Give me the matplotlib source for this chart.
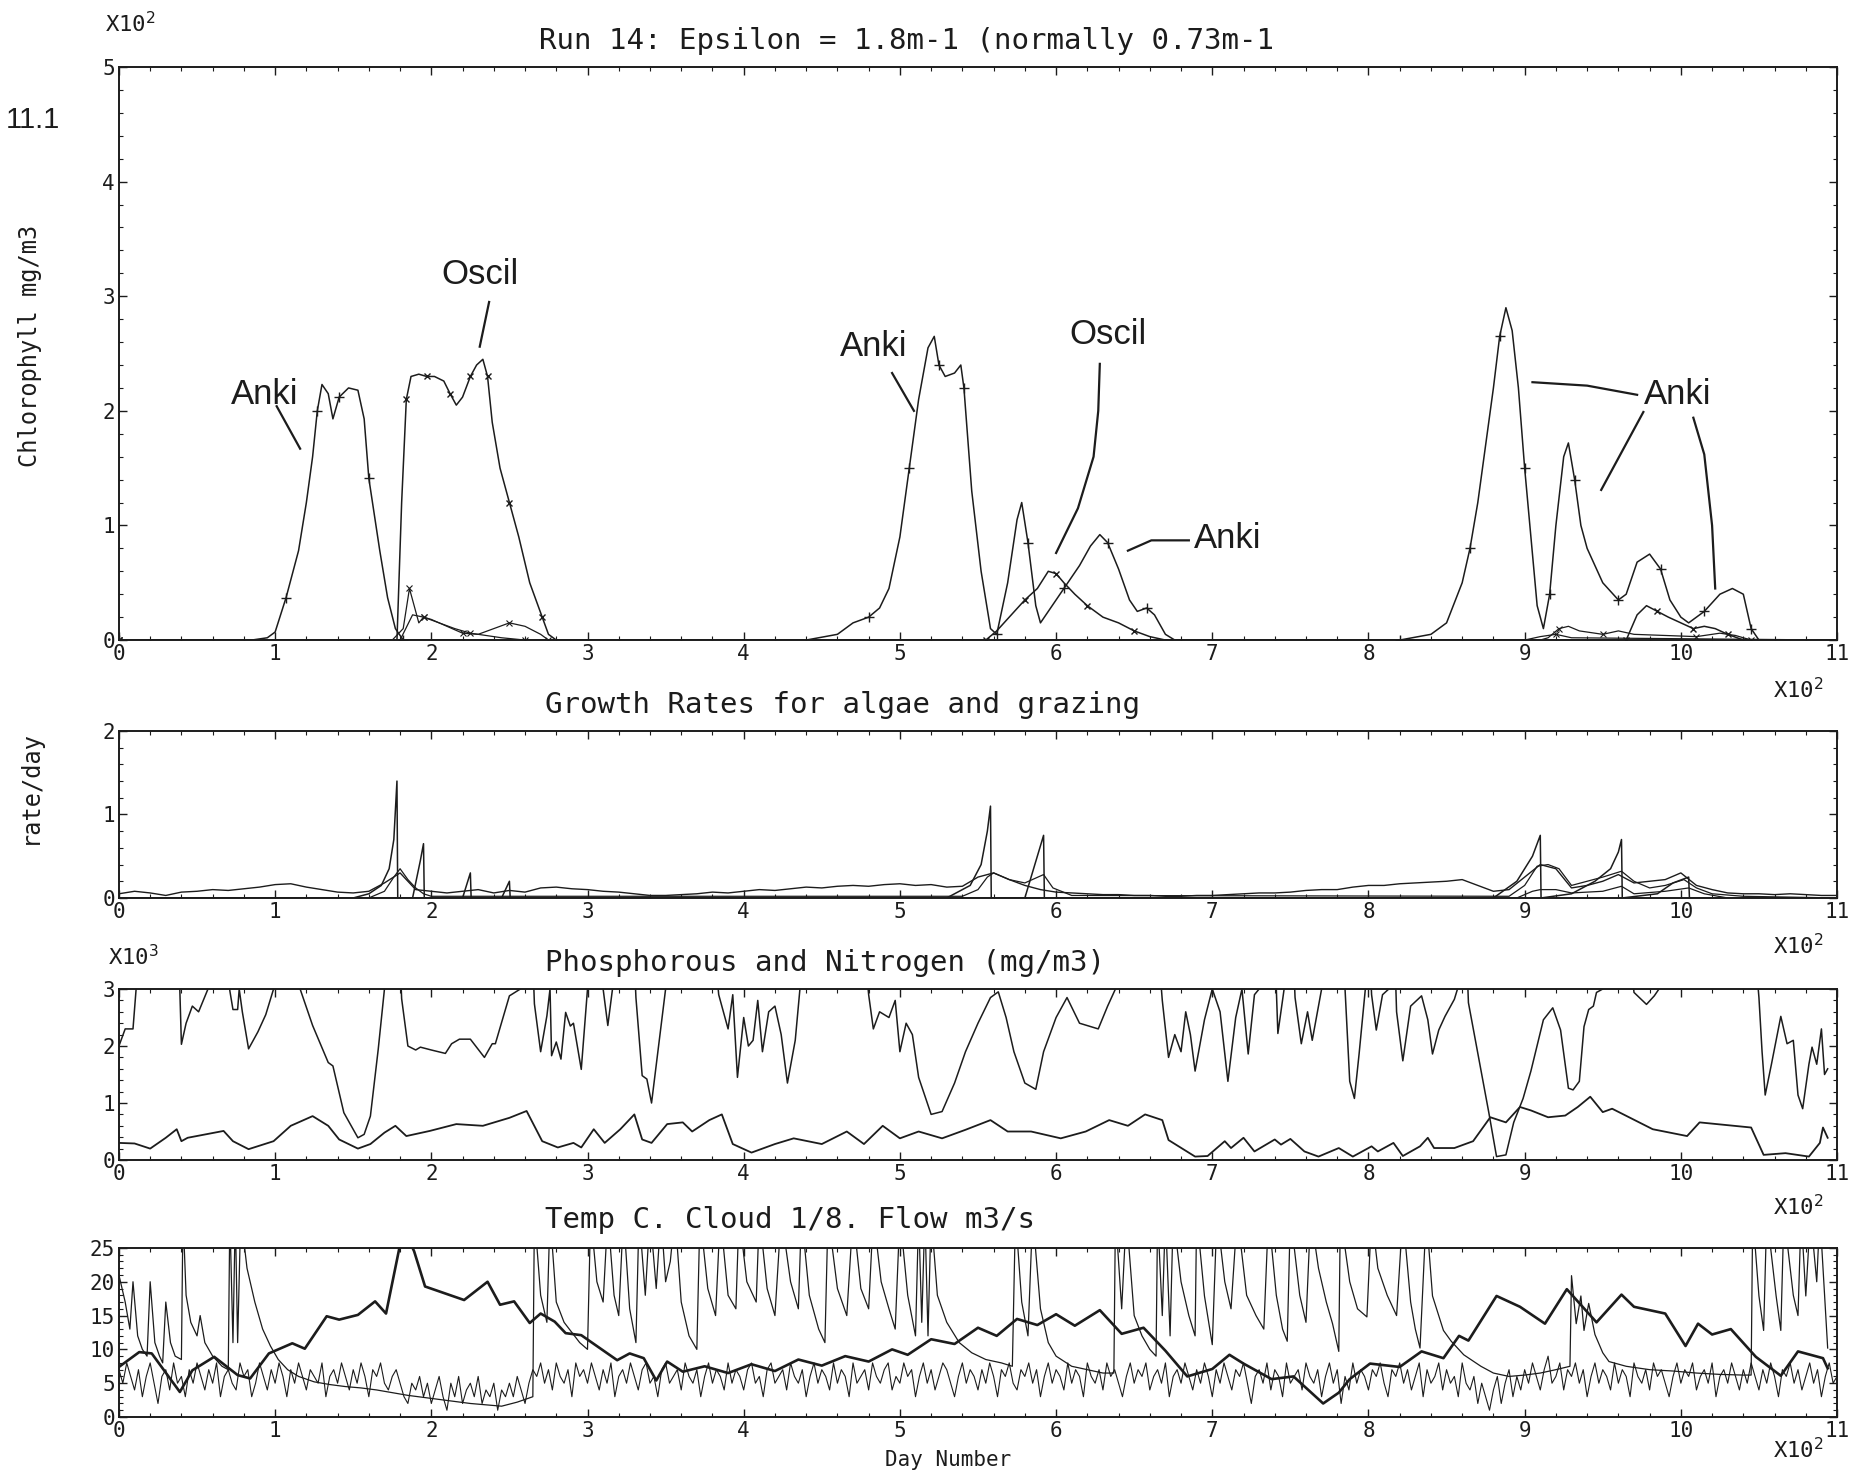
import numpy as np
import matplotlib.pyplot as plt
from matplotlib.ticker import MultipleLocator, FuncFormatter
from matplotlib.transforms import blended_transform_factory as blend

plt.rcParams['font.family'] = ['DejaVu Sans Mono']
INK = '#1c1c1c'

# x values are day numbers in hundreds (axis is labelled X10^2)

# ---- panel 1 : chlorophyll (x100 mg/m3)
anki = [(0.0, 0), (0.85, 0), (0.95, 0.02), (1.0, 0.07), (1.07, 0.37), (1.15, 0.78), (1.2, 1.2),
        (1.24, 1.6), (1.27, 2.0), (1.30, 2.23), (1.34, 2.15), (1.37, 1.93), (1.41, 2.12),
        (1.47, 2.2), (1.53, 2.18), (1.57, 1.93), (1.6, 1.41), (1.67, 0.78), (1.72, 0.37),
        (1.77, 0.1), (1.82, 0.0),
        (4.4, 0.0), (4.6, 0.05), (4.7, 0.15), (4.8, 0.2), (4.87, 0.28), (4.93, 0.45), (5.0, 0.9),
        (5.06, 1.5), (5.12, 2.1), (5.18, 2.55), (5.22, 2.65), (5.25, 2.4), (5.29, 2.3),
        (5.35, 2.33), (5.39, 2.4), (5.41, 2.2), (5.46, 1.3), (5.52, 0.6), (5.58, 0.1),
        (5.62, 0.05), (5.69, 0.5), (5.75, 1.05), (5.78, 1.2), (5.82, 0.85), (5.87, 0.3),
        (5.9, 0.15), (5.95, 0.25), (6.05, 0.45), (6.15, 0.65), (6.22, 0.82), (6.28, 0.92),
        (6.33, 0.85), (6.4, 0.62), (6.47, 0.35), (6.52, 0.25), (6.58, 0.28), (6.63, 0.22),
        (6.7, 0.05), (6.76, 0.0),
        (8.2, 0.0), (8.4, 0.05), (8.5, 0.15), (8.6, 0.5), (8.65, 0.8), (8.7, 1.2), (8.75, 1.7),
        (8.8, 2.2), (8.84, 2.65), (8.88, 2.9), (8.92, 2.7), (8.96, 2.2), (9.0, 1.5), (9.04, 0.9),
        (9.08, 0.3), (9.12, 0.1), (9.16, 0.4), (9.2, 1.0), (9.25, 1.6), (9.28, 1.72),
        (9.32, 1.4), (9.36, 1.0), (9.4, 0.8), (9.5, 0.5), (9.6, 0.35), (9.65, 0.4), (9.72, 0.68),
        (9.8, 0.75), (9.87, 0.62), (9.93, 0.35), (10.0, 0.2), (10.05, 0.15), (10.15, 0.25),
        (10.25, 0.4), (10.33, 0.45), (10.4, 0.4), (10.45, 0.1), (10.5, 0.0), (11.0, 0.0)]

oscil = [(0.0, 0), (1.78, 0.0), (1.81, 1.2), (1.84, 2.1), (1.87, 2.3), (1.92, 2.32), (1.97, 2.3),
         (2.02, 2.3), (2.08, 2.26), (2.12, 2.15), (2.16, 2.05), (2.2, 2.12), (2.25, 2.3),
         (2.29, 2.4), (2.33, 2.45), (2.36, 2.3), (2.39, 1.9), (2.44, 1.5), (2.5, 1.2),
         (2.56, 0.9), (2.63, 0.5), (2.71, 0.2), (2.75, 0.05), (2.8, 0.0),
         (5.55, 0.0), (5.62, 0.08), (5.7, 0.2), (5.8, 0.35), (5.88, 0.45), (5.95, 0.6),
         (6.0, 0.58), (6.05, 0.5), (6.12, 0.4), (6.2, 0.3), (6.3, 0.2), (6.4, 0.15),
         (6.5, 0.08), (6.6, 0.03), (6.7, 0.0),
         (9.65, 0.0), (9.72, 0.22), (9.78, 0.3), (9.85, 0.25), (9.92, 0.2), (10.0, 0.15),
         (10.08, 0.1), (10.15, 0.12), (10.22, 0.1), (10.3, 0.05), (10.4, 0.0), (11.0, 0.0)]

minor_a = [(0.0, 0), (1.75, 0.0), (1.82, 0.1), (1.86, 0.45), (1.89, 0.3), (1.92, 0.15),
           (1.95, 0.2), (2.0, 0.18), (2.1, 0.12), (2.2, 0.06), (2.3, 0.05), (2.4, 0.1),
           (2.5, 0.15), (2.6, 0.12), (2.7, 0.05), (2.75, 0.0),
           (9.1, 0.0), (9.15, 0.02), (9.22, 0.1), (9.28, 0.12), (9.35, 0.08), (9.5, 0.05),
           (9.6, 0.08), (9.7, 0.05), (10.1, 0.03), (10.25, 0.06), (10.35, 0.04), (10.45, 0.0),
           (11.0, 0.0)]

minor_b = [(0.0, 0), (1.8, 0.0), (1.88, 0.22), (1.95, 0.2), (2.05, 0.15), (2.15, 0.1),
           (2.25, 0.06), (2.35, 0.04), (2.45, 0.02), (2.6, 0.0),
           (9.0, 0.0), (9.1, 0.03), (9.2, 0.05), (9.3, 0.02), (11.0, 0.0)]

# ---- panel 2 : growth rates (rate/day)
growth_days = np.arange(0, 1101, 10) / 100
growth_bg = [0.05, 0.08, 0.06, 0.03, 0.07, 0.08, 0.10, 0.09, 0.11, 0.13,
             0.16, 0.17, 0.13, 0.10, 0.07, 0.06, 0.08, 0.18, 0.30, 0.10,
             0.08, 0.06, 0.08, 0.10, 0.06, 0.09, 0.07, 0.12, 0.13, 0.11,
             0.10, 0.08, 0.07, 0.05, 0.03, 0.03, 0.04, 0.05, 0.07, 0.06,
             0.08, 0.10, 0.09, 0.11, 0.13, 0.12, 0.14, 0.15, 0.14, 0.16,
             0.17, 0.15, 0.16, 0.13, 0.14, 0.25, 0.30, 0.22, 0.15, 0.10,
             0.07, 0.06, 0.05, 0.04, 0.04, 0.03, 0.03, 0.02, 0.02, 0.03,
             0.03, 0.04, 0.05, 0.06, 0.06, 0.07, 0.09, 0.10, 0.10, 0.13,
             0.15, 0.15, 0.17, 0.18, 0.19, 0.20, 0.22, 0.15, 0.08, 0.10,
             0.25, 0.40, 0.35, 0.12, 0.15, 0.20, 0.28, 0.18, 0.20, 0.22,
             0.30, 0.15, 0.10, 0.06, 0.05, 0.05, 0.04, 0.05, 0.04, 0.03,
             0.03]

growth_spikes = [(0.0, 0), (1.5, 0.0), (1.6, 0.05), (1.68, 0.15), (1.73, 0.35), (1.76, 0.7),
                 (1.78, 1.4), (1.785, 0.0), (1.88, 0.0), (1.93, 0.45), (1.95, 0.65),
                 (1.955, 0.0), (2.2, 0.0), (2.25, 0.3), (2.255, 0.0), (2.45, 0.0), (2.5, 0.2),
                 (2.505, 0.0), (5.3, 0.0), (5.45, 0.15), (5.52, 0.4), (5.56, 0.8), (5.58, 1.1),
                 (5.585, 0.0), (5.8, 0.0), (5.88, 0.5), (5.92, 0.75), (5.925, 0.0),
                 (8.8, 0.0), (8.95, 0.2), (9.05, 0.5), (9.1, 0.75), (9.105, 0.0),
                 (9.3, 0.05), (9.45, 0.2), (9.55, 0.35), (9.6, 0.55), (9.62, 0.7),
                 (9.625, 0.0), (9.85, 0.05), (9.95, 0.18), (10.05, 0.25), (10.055, 0.0),
                 (11.0, 0.0)]

grazing = [(0.0, 0), (1.6, 0.0), (1.7, 0.08), (1.76, 0.25), (1.8, 0.35), (1.85, 0.22),
           (1.9, 0.12), (1.95, 0.05), (2.0, 0.02), (5.4, 0.02), (5.5, 0.1), (5.56, 0.25),
           (5.6, 0.3), (5.7, 0.22), (5.8, 0.18), (5.92, 0.28), (5.98, 0.12), (6.1, 0.03),
           (8.9, 0.02), (9.0, 0.15), (9.08, 0.38), (9.15, 0.4), (9.22, 0.35), (9.3, 0.15),
           (9.4, 0.2), (9.5, 0.25), (9.62, 0.32), (9.7, 0.2), (9.8, 0.12), (9.9, 0.15),
           (10.02, 0.22), (10.1, 0.12), (10.2, 0.05), (10.4, 0.02), (11.0, 0.0)]

grazing_low = [(0.0, 0), (8.95, 0.0), (9.05, 0.08), (9.1, 0.1), (9.2, 0.1), (9.3, 0.06),
               (9.5, 0.08), (9.62, 0.14), (9.7, 0.05), (9.9, 0.08), (10.05, 0.12),
               (10.15, 0.05), (10.3, 0.0), (11.0, 0.0)]

# ---- panel 3 : nitrogen and phosphorus (x1000 mg/m3); 3.5 = off the top of the plot
nitrogen = [(0.0, 2.0), (0.04, 2.3), (0.09, 2.3), (0.11, 3.0), (0.13, 3.5),
            (0.38, 3.5), (0.39, 2.97), (0.4, 2.03), (0.43, 2.4), (0.47, 2.7), (0.51, 2.6),
            (0.57, 3.0), (0.6, 3.5), (0.7, 3.5), (0.71, 2.97), (0.73, 2.64), (0.76, 2.64),
            (0.77, 3.0), (0.79, 2.6), (0.83, 1.95), (0.89, 2.25), (0.94, 2.55), (0.99, 3.0),
            (1.02, 3.5), (1.14, 3.5), (1.16, 3.0), (1.24, 2.36), (1.34, 1.71), (1.37, 1.65),
            (1.44, 0.83), (1.53, 0.39), (1.57, 0.45), (1.61, 0.77), (1.66, 1.94), (1.7, 3.0),
            (1.72, 3.5), (1.8, 3.5), (1.81, 2.83), (1.85, 2.0), (1.9, 1.93), (1.93, 1.98),
            (2.0, 1.93), (2.09, 1.87), (2.13, 2.04), (2.18, 2.12), (2.25, 2.12), (2.34, 1.8),
            (2.39, 2.04), (2.41, 2.04), (2.5, 2.88), (2.57, 3.0), (2.6, 3.5),
            (2.65, 3.5), (2.66, 2.74), (2.7, 1.9), (2.74, 2.53), (2.76, 3.0), (2.77, 1.83),
            (2.8, 2.07), (2.83, 1.77), (2.86, 2.59), (2.89, 2.35), (2.91, 2.4), (2.96, 1.59),
            (3.0, 3.0), (3.02, 3.5), (3.09, 3.5), (3.1, 3.0), (3.13, 2.36), (3.16, 3.0),
            (3.18, 3.5), (3.3, 3.5), (3.31, 2.85), (3.35, 1.48), (3.38, 1.42), (3.41, 1.0),
            (3.5, 3.0), (3.52, 3.5), (3.82, 3.5), (3.84, 2.9), (3.9, 2.3), (3.93, 2.9),
            (3.96, 1.45), (4.0, 2.5), (4.03, 2.0), (4.06, 2.1), (4.09, 2.8), (4.12, 1.9),
            (4.16, 2.6), (4.2, 2.7), (4.24, 2.2), (4.28, 1.35), (4.33, 2.1), (4.36, 3.0),
            (4.38, 3.5), (4.78, 3.5), (4.8, 2.9), (4.83, 2.3), (4.87, 2.6), (4.93, 2.5),
            (4.97, 2.8), (5.0, 1.9), (5.04, 2.4), (5.08, 2.2), (5.12, 1.45), (5.2, 0.8),
            (5.27, 0.85), (5.35, 1.35), (5.42, 1.9), (5.5, 2.4), (5.58, 2.85), (5.63, 2.95),
            (5.68, 2.5), (5.73, 1.9), (5.8, 1.35), (5.87, 1.24), (5.92, 1.9), (6.0, 2.5),
            (6.07, 2.85), (6.15, 2.4), (6.27, 2.3), (6.33, 2.7), (6.38, 3.0), (6.4, 3.5),
            (6.66, 3.5), (6.68, 2.8), (6.72, 1.8), (6.76, 2.2), (6.8, 1.9), (6.83, 2.6),
            (6.86, 2.2), (6.89, 1.56), (6.95, 2.46), (7.0, 3.0), (7.05, 2.6), (7.1, 1.38),
            (7.15, 2.5), (7.19, 3.0), (7.23, 1.86), (7.27, 2.9), (7.3, 3.0), (7.32, 3.5),
            (7.4, 3.5), (7.41, 3.0), (7.42, 2.22), (7.46, 3.0), (7.48, 3.5), (7.52, 3.5),
            (7.53, 2.85), (7.57, 2.04), (7.61, 2.6), (7.64, 2.1), (7.68, 2.7), (7.7, 3.0),
            (7.72, 3.5), (7.84, 3.5), (7.85, 3.0), (7.88, 1.38), (7.91, 1.08), (7.94, 1.86),
            (7.98, 3.0), (8.0, 3.5), (8.01, 3.5), (8.02, 2.9), (8.05, 2.28), (8.09, 2.9),
            (8.13, 3.0), (8.15, 3.5), (8.17, 3.5), (8.18, 2.6), (8.22, 1.74), (8.27, 2.7),
            (8.34, 2.88), (8.38, 2.46), (8.41, 1.86), (8.45, 2.28), (8.49, 2.52), (8.55, 2.82),
            (8.57, 3.0), (8.6, 3.5), (8.63, 3.5), (8.64, 2.76), (8.77, 0.84), (8.82, 0.06),
            (8.88, 0.09), (8.93, 0.66), (8.99, 1.08), (9.04, 1.56), (9.12, 2.46), (9.18, 2.67),
            (9.23, 2.28), (9.28, 1.26), (9.31, 1.23), (9.35, 1.38), (9.38, 2.34), (9.41, 2.64),
            (9.44, 2.7), (9.46, 2.94), (9.5, 3.0), (9.52, 3.5), (9.68, 3.5), (9.7, 2.94),
            (9.78, 2.73), (9.83, 2.88), (9.86, 3.0), (9.88, 3.5), (10.48, 3.5), (10.5, 2.85),
            (10.52, 1.9), (10.54, 1.14), (10.58, 1.68), (10.64, 2.52), (10.68, 2.04),
            (10.72, 2.1), (10.75, 1.14), (10.78, 0.9), (10.82, 1.68), (10.84, 1.98),
            (10.87, 1.68), (10.9, 2.3), (10.92, 1.5), (10.94, 1.6)]

phosphorus = [(0.0, 0.30), (0.1, 0.29), (0.2, 0.2), (0.3, 0.39), (0.37, 0.54), (0.4, 0.33),
              (0.44, 0.39), (0.67, 0.51), (0.73, 0.33), (0.83, 0.19), (0.99, 0.33), (1.1, 0.6),
              (1.24, 0.77), (1.34, 0.6), (1.41, 0.36), (1.53, 0.2), (1.61, 0.28), (1.7, 0.48),
              (1.77, 0.6), (1.84, 0.42), (1.99, 0.51), (2.16, 0.63), (2.33, 0.6), (2.5, 0.74),
              (2.61, 0.86), (2.71, 0.33), (2.81, 0.22), (2.91, 0.3), (2.96, 0.22), (3.04, 0.54),
              (3.11, 0.3), (3.21, 0.54), (3.3, 0.8), (3.35, 0.36), (3.41, 0.3), (3.51, 0.63),
              (3.61, 0.66), (3.67, 0.5), (3.78, 0.7), (3.86, 0.8), (3.93, 0.28), (4.05, 0.13),
              (4.2, 0.28), (4.32, 0.38), (4.5, 0.28), (4.66, 0.5), (4.77, 0.28), (4.89, 0.6),
              (5.0, 0.38), (5.12, 0.5), (5.27, 0.38), (5.42, 0.53), (5.58, 0.7), (5.69, 0.5),
              (5.84, 0.5), (6.03, 0.38), (6.19, 0.5), (6.34, 0.7), (6.46, 0.6), (6.57, 0.8),
              (6.68, 0.7), (6.72, 0.35), (6.89, 0.06), (6.97, 0.07), (7.08, 0.33), (7.12, 0.21),
              (7.2, 0.39), (7.27, 0.15), (7.4, 0.36), (7.44, 0.27), (7.5, 0.37), (7.59, 0.15),
              (7.68, 0.06), (7.81, 0.21), (7.9, 0.06), (8.02, 0.24), (8.06, 0.15), (8.16, 0.3),
              (8.22, 0.07), (8.33, 0.24), (8.38, 0.39), (8.42, 0.21), (8.55, 0.21), (8.67, 0.33),
              (8.78, 0.75), (8.88, 0.66), (8.97, 0.93), (9.04, 0.87), (9.15, 0.75), (9.26, 0.78),
              (9.34, 0.93), (9.42, 1.11), (9.5, 0.84), (9.56, 0.9), (9.82, 0.54), (10.04, 0.42),
              (10.12, 0.66), (10.45, 0.57), (10.53, 0.09), (10.67, 0.12), (10.82, 0.06),
              (10.89, 0.3), (10.91, 0.57), (10.94, 0.39)]

# ---- panel 4 : temperature, cloud (1/8), flow (m3/s); 30 = off the top
temperature = [(0.0, 7.4), (0.13, 9.6), (0.21, 9.4), (0.39, 3.7), (0.47, 6.9), (0.61, 8.9),
               (0.76, 6.2), (0.84, 5.7), (0.96, 9.4), (1.11, 10.9), (1.19, 10.1), (1.33, 14.9),
               (1.41, 14.4), (1.53, 15.1), (1.64, 17.1), (1.71, 15.3), (1.8, 25.5), (1.86, 26),
               (1.89, 24.5), (1.96, 19.3), (2.21, 17.3), (2.36, 20), (2.44, 16.6), (2.53, 17.1),
               (2.63, 13.9), (2.7, 15.3), (2.79, 14.1), (2.86, 12.4), (2.96, 12.1), (3.19, 8.4),
               (3.27, 9.4), (3.36, 8.7), (3.44, 5.4), (3.51, 8.2), (3.61, 6.7), (3.75, 7.5),
               (3.9, 6.5), (4.05, 7.8), (4.2, 6.8), (4.35, 8.5), (4.5, 7.6), (4.65, 9.0),
               (4.8, 8.2), (4.95, 10.0), (5.05, 9.2), (5.2, 11.5), (5.35, 10.8), (5.5, 13.2),
               (5.62, 12.0), (5.75, 14.5), (5.88, 13.6), (6.0, 15.2), (6.12, 13.5), (6.28, 15.8),
               (6.42, 12.3), (6.56, 13.2), (6.7, 9.8), (6.84, 6.0), (7.0, 7.1), (7.11, 9.2),
               (7.2, 7.9), (7.38, 5.6), (7.52, 6.0), (7.71, 2.0), (7.81, 3.6), (7.88, 5.6),
               (8.01, 7.9), (8.2, 7.4), (8.34, 9.7), (8.48, 8.7), (8.58, 12.0), (8.64, 11.3),
               (8.82, 17.9), (8.97, 16.3), (9.13, 13.8), (9.27, 18.9), (9.46, 14.0), (9.62, 18.1),
               (9.7, 16.3), (9.9, 15.3), (10.03, 10.5), (10.11, 13.8), (10.2, 12.2),
               (10.32, 13.0), (10.48, 8.9), (10.64, 6.1), (10.75, 9.7), (10.91, 8.7),
               (10.94, 7.2)]

flow = [(0.0, 21), (0.04, 17), (0.07, 13), (0.09, 20), (0.12, 12), (0.15, 10), (0.18, 9),
        (0.2, 20), (0.23, 11), (0.26, 9), (0.28, 8), (0.3, 17), (0.33, 11), (0.36, 9),
        (0.4, 8.5), (0.41, 30), (0.43, 18), (0.46, 14), (0.5, 12), (0.52, 15), (0.55, 11),
        (0.6, 9), (0.66, 7.5), (0.7, 7), (0.71, 30), (0.73, 11), (0.745, 30), (0.76, 11),
        (0.78, 30), (0.82, 22), (0.87, 17), (0.92, 13), (0.97, 10.5), (1.02, 8.5), (1.08, 7),
        (1.15, 6), (1.25, 5.2), (1.35, 4.8), (1.45, 4.5), (1.55, 4.3), (1.65, 4.0),
        (1.75, 3.6), (1.85, 3.2), (1.95, 2.9), (2.05, 2.6), (2.15, 2.3), (2.25, 2.0),
        (2.35, 1.8), (2.45, 1.6), (2.55, 2.2), (2.65, 3.0), (2.66, 30), (2.7, 18), (2.74, 14),
        (2.76, 30), (2.8, 17), (2.85, 14), (2.9, 12.5), (2.95, 11), (3.0, 10), (3.02, 30),
        (3.06, 20), (3.1, 17), (3.13, 30), (3.17, 18), (3.2, 15), (3.23, 30), (3.27, 16),
        (3.31, 11), (3.33, 30), (3.37, 18), (3.4, 30), (3.44, 19), (3.47, 30), (3.5, 20),
        (3.53, 23), (3.56, 30), (3.6, 17), (3.65, 12), (3.7, 10), (3.72, 30), (3.77, 19),
        (3.82, 15), (3.85, 30), (3.9, 18), (3.95, 16), (3.97, 30), (4.02, 20), (4.08, 17),
        (4.1, 30), (4.15, 19), (4.2, 15), (4.24, 30), (4.3, 20), (4.35, 16), (4.37, 30),
        (4.42, 18), (4.48, 13), (4.52, 11), (4.54, 30), (4.6, 19), (4.66, 15), (4.7, 30),
        (4.75, 19), (4.8, 16), (4.83, 30), (4.88, 20), (4.93, 16), (4.97, 13), (5.0, 30),
        (5.05, 18), (5.1, 12), (5.12, 30), (5.14, 14), (5.16, 30), (5.18, 12), (5.2, 30),
        (5.24, 18), (5.3, 14), (5.38, 11), (5.46, 9.5), (5.55, 8.5), (5.65, 8), (5.72, 7.5),
        (5.74, 30), (5.78, 17), (5.82, 12), (5.85, 30), (5.9, 16), (5.95, 11), (6.0, 9),
        (6.1, 7.5), (6.2, 7), (6.3, 6.5), (6.37, 6.5), (6.38, 30), (6.42, 16), (6.45, 30),
        (6.5, 15), (6.55, 12), (6.6, 10), (6.64, 9), (6.65, 30), (6.68, 15), (6.7, 30),
        (6.73, 12), (6.75, 30), (6.8, 20), (6.85, 15), (6.89, 12), (6.9, 30), (6.95, 17.9),
        (7.0, 10.7), (7.03, 30), (7.08, 20), (7.12, 16), (7.16, 30), (7.22, 18), (7.28, 15),
        (7.33, 13), (7.36, 30), (7.41, 18), (7.45, 13), (7.48, 11.2), (7.5, 30), (7.56, 18),
        (7.6, 14), (7.63, 30), (7.68, 22), (7.73, 17), (7.77, 13.8), (7.81, 9.7), (7.82, 30),
        (7.88, 20), (7.93, 16), (7.99, 14.8), (8.02, 30), (8.06, 22), (8.12, 18), (8.18, 15),
        (8.22, 30), (8.27, 17), (8.3, 13), (8.33, 10.2), (8.37, 30), (8.41, 17.9),
        (8.48, 12.8), (8.53, 11.2), (8.61, 9.2), (8.72, 7.5), (8.8, 6.5), (8.9, 6),
        (9.0, 6.2), (9.1, 6.5), (9.2, 7), (9.29, 7.5), (9.3, 20.9), (9.33, 13.8),
        (9.36, 17.9), (9.38, 12.8), (9.41, 16.8), (9.45, 12.2), (9.5, 9.5), (9.54, 8.2),
        (9.65, 7.5), (9.8, 7), (9.95, 6.8), (10.1, 6.5), (10.25, 6.3), (10.4, 6.2),
        (10.45, 6.2), (10.46, 30), (10.5, 17.9), (10.53, 12.8), (10.55, 30), (10.61, 17.9),
        (10.64, 12.8), (10.66, 30), (10.72, 18), (10.75, 15), (10.77, 30), (10.8, 17.9),
        (10.83, 30), (10.87, 20), (10.89, 30), (10.94, 10.2)]

# cloud cover every 2.5 days, one row per 50 days
cloud_days = np.arange(0, 441) * 0.025
cloud = [7, 5, 8, 6, 4, 7, 3, 6, 8, 5, 2, 6, 7, 4, 8, 5, 6, 3, 7, 5,
         8, 6, 4, 7, 5, 8, 3, 6, 7, 5, 4, 8, 6, 7, 3, 5, 8, 6, 4, 7,
         5, 8, 6, 3, 7, 5, 8, 6, 4, 7, 6, 5, 8, 3, 6, 7, 5, 8, 6, 4,
         7, 5, 8, 6, 3, 7, 6, 8, 5, 4, 6, 7, 5, 3, 2, 5, 4, 6, 3, 5,
         2, 4, 6, 3, 1, 5, 3, 6, 2, 4, 5, 3, 6, 2, 4, 3, 5, 1, 4, 3,
         5, 3, 6, 4, 2, 5, 7, 6, 8, 5, 7, 4, 8, 6, 5, 7, 3, 8, 6, 7,
         5, 8, 6, 4, 7, 5, 8, 3, 6, 7, 5, 8, 6, 4, 7, 8, 5, 6, 3, 7,
         8, 5, 6, 7, 4, 8, 6, 5, 7, 3, 6, 8, 5, 7, 6, 4, 8, 5, 7, 6,
         4, 7, 8, 5, 6, 3, 7, 8, 5, 6, 7, 4, 8, 6, 5, 7, 3, 6, 8, 5,
         7, 6, 4, 8, 5, 7, 6, 3, 8, 5, 6, 7, 4, 8, 6, 5, 7, 8, 4, 6,
         5, 8, 6, 7, 3, 6, 8, 5, 7, 4, 6, 8, 7, 5, 3, 6, 8, 5, 7, 6,
         4, 7, 5, 8, 6, 3, 7, 6, 8, 5, 4, 7, 6, 8, 5, 7, 3, 6, 8, 5,
         7, 6, 4, 8, 5, 7, 6, 3, 8, 6, 5, 7, 4, 8, 6, 7, 5, 3, 6, 8,
         5, 7, 6, 8, 4, 6, 7, 5, 8, 3, 6, 7, 5, 8, 6, 4, 7, 5, 8, 6,
         3, 7, 5, 8, 6, 4, 7, 6, 8, 5, 2, 6, 7, 5, 8, 4, 7, 6, 3, 8,
         5, 6, 7, 4, 8, 6, 5, 7, 3, 6, 8, 5, 7, 2, 6, 4, 8, 5, 7, 6,
         4, 7, 6, 8, 5, 3, 7, 6, 8, 5, 7, 4, 6, 8, 3, 7, 5, 6, 8, 4,
         7, 5, 6, 3, 8, 5, 4, 6, 2, 5, 3, 1, 4, 6, 2, 5, 7, 3, 6, 4,
         7, 5, 8, 6, 4, 7, 9, 5, 6, 8, 4, 7, 6, 8, 5, 7, 3, 6, 8, 5,
         7, 6, 4, 8, 5, 7, 6, 3, 8, 6, 5, 7, 4, 8, 6, 7, 5, 3, 6, 8,
         5, 7, 6, 8, 4, 6, 7, 5, 8, 3, 6, 7, 5, 8, 6, 4, 7, 5, 8, 6,
         4, 7, 5, 8, 6, 3, 7, 6, 8, 5, 7, 4, 6, 8, 5, 7, 3, 6, 8, 5,
         6]


def xy(pairs):
    a = np.array(pairs, dtype=float)
    return a[:, 0], a[:, 1]


def style(ax, ymax, ystep, yminor):
    ax.set_xlim(0, 11)
    ax.set_ylim(0, ymax)
    ax.xaxis.set_major_locator(MultipleLocator(1))
    ax.xaxis.set_minor_locator(MultipleLocator(0.2))
    ax.yaxis.set_major_locator(MultipleLocator(ystep))
    ax.yaxis.set_minor_locator(MultipleLocator(yminor))
    ax.xaxis.set_major_formatter(FuncFormatter(lambda v, p: f'{int(round(v))}'))
    ax.yaxis.set_major_formatter(FuncFormatter(lambda v, p: f'{int(round(v))}'))
    ax.tick_params(which='both', direction='in', top=True, right=True,
                   labelsize=15, colors=INK, pad=3)
    ax.tick_params(which='major', length=6, width=1.0)
    ax.tick_params(which='minor', length=3, width=0.8)
    for s in ax.spines.values():
        s.set_linewidth(1.4)
        s.set_color(INK)


fig = plt.figure(figsize=(18.73, 14.83), dpi=100)
L, W = 0.0635, 0.9173
ax1 = fig.add_axes([L, 0.5684, W, 0.3864])
ax2 = fig.add_axes([L, 0.3945, W, 0.1126])
ax3 = fig.add_axes([L, 0.2178, W, 0.1153])
ax4 = fig.add_axes([L, 0.0445, W, 0.1140])

# panel 1
style(ax1, 5, 1, 0.2)
for pairs in (minor_a, minor_b):
    x, y = xy(pairs)
    ax1.plot(x, y, color=INK, lw=0.9, marker='x', ms=4, mew=0.8, markevery=3)
x, y = xy(oscil)
ax1.plot(x, y, color=INK, lw=1.1, marker='x', ms=5, mew=1, markevery=3)
x, y = xy(anki)
ax1.plot(x, y, color=INK, lw=1.1, marker='+', ms=7, mew=1, markevery=4)

ann_font = dict(family='Liberation Sans', fontsize=25, color=INK)
labels = [('Anki', 0.93, 2.14, [(1.01, 2.04), (1.16, 1.67)]),
          ('Oscil', 2.31, 3.19, [(2.37, 2.95), (2.31, 2.56)]),
          ('Anki', 4.83, 2.56, [(4.95, 2.33), (5.09, 2.0)]),
          ('Oscil', 6.33, 2.67, [(6.28, 2.41), (6.27, 2.0), (6.24, 1.6), (6.14, 1.15), (6.0, 0.76)]),
          ('Anki', 7.1, 0.89, [(6.46, 0.78), (6.61, 0.87), (6.85, 0.87)]),
          ('Anki', 9.98, 2.14, [(9.05, 2.25), (9.4, 2.22), (9.72, 2.14)])]
for txt, tx, ty, line in labels:
    ax1.text(tx, ty, txt, ha='center', va='center', **ann_font)
    lx, ly = xy(line)
    ax1.plot(lx, ly, color=INK, lw=1.6)
for line in ([(9.76, 1.99), (9.49, 1.31)],
             [(10.08, 1.94), (10.15, 1.62), (10.2, 1.0), (10.22, 0.45)]):
    lx, ly = xy(line)
    ax1.plot(lx, ly, color=INK, lw=1.6)

# panel 2
style(ax2, 2, 1, 0.2)
ax2.plot(growth_days, growth_bg, color=INK, lw=1.0)
for pairs in (grazing, grazing_low):
    x, y = xy(pairs)
    ax2.plot(x, y, color=INK, lw=0.9)
x, y = xy(growth_spikes)
ax2.plot(x, y, color=INK, lw=1.1)

# panel 3
style(ax3, 3, 1, 0.2)
x, y = xy(nitrogen)
ax3.plot(x, y, color=INK, lw=1.1)
x, y = xy(phosphorus)
ax3.plot(x, y, color=INK, lw=1.3)

# panel 4
style(ax4, 25, 5, 1)
ax4.plot(cloud_days, cloud, color=INK, lw=0.8)
x, y = xy(flow)
ax4.plot(x, y, color=INK, lw=0.9)
x, y = xy(temperature)
ax4.plot(x, y, color=INK, lw=1.9)

# titles and scale notes
title_font = dict(fontsize=21, color=INK, ha='left', va='center')
ax1.text(2.69, 1.046, 'Run 14: Epsilon = 1.8m-1 (normally 0.73m-1',
         transform=blend(ax1.transData, ax1.transAxes), **title_font)
ax2.text(2.73, 1.156, 'Growth Rates for algae and grazing',
         transform=blend(ax2.transData, ax2.transAxes), **title_font)
ax3.text(2.73, 1.152, 'Phosphorous and Nitrogen (mg/m3)',
         transform=blend(ax3.transData, ax3.transAxes), **title_font)
ax4.text(2.73, 1.166, 'Temp C. Cloud 1/8. Flow m3/s',
         transform=blend(ax4.transData, ax4.transAxes), **title_font)

note = dict(fontsize=16, color=INK, ha='center', va='center')
ax1.text(0.07, 1.075, 'X10$^2$', transform=blend(ax1.transData, ax1.transAxes), **note)
ax3.text(0.09, 1.19, 'X10$^3$', transform=blend(ax3.transData, ax3.transAxes), **note)
for ax, yy in ((ax1, -0.087), (ax2, -0.287), (ax3, -0.27), (ax4, -0.19)):
    ax.text(10.75, yy, 'X10$^2$', transform=blend(ax.transData, ax.transAxes), **note)
ax4.text(5.31, -0.254, 'Day Number', transform=blend(ax4.transData, ax4.transAxes),
         fontsize=15, color=INK, ha='center', va='center')

fig.text(0.016, 0.767, 'Chlorophyll mg/m3', rotation=90, fontsize=17, color=INK,
         ha='center', va='center')
fig.text(0.016, 0.469, 'rate/day', rotation=90, fontsize=17, color=INK,
         ha='center', va='center')
fig.text(0.003, 0.919, '11.1', family='Liberation Sans', fontsize=21, color=INK,
         ha='left', va='center')

fig.savefig('out.png', dpi=100, facecolor='white')
